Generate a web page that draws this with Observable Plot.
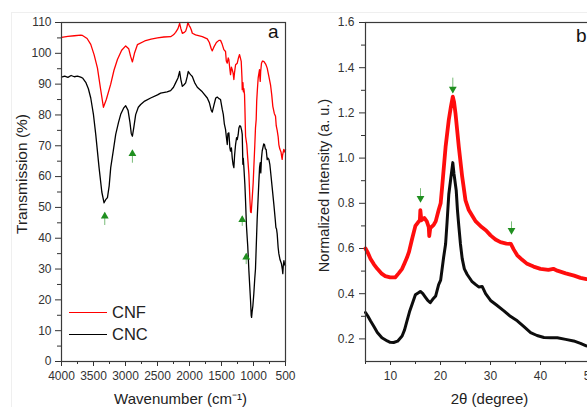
<!DOCTYPE html>
<html><head><meta charset="utf-8">
<script src="https://cdn.jsdelivr.net/npm/d3@7"></script>
<script src="https://cdn.jsdelivr.net/npm/@observablehq/plot@0.6"></script>
<style>
html,body{margin:0;padding:0;background:#fff;overflow:hidden;}
#fig{position:relative;width:587px;height:407px;overflow:hidden;font-family:"Liberation Sans",Arial,sans-serif;color:#333;}
#fig svg{position:absolute;top:0;overflow:visible;}
#border{position:absolute;left:11px;top:12px;width:600px;height:420px;border-left:1px solid #efefef;border-top:1px solid #efefef;}
.leg{position:absolute;left:69px;font-size:16.5px;color:#222;display:flex;align-items:center;height:20px;}
.leg span.sw{display:inline-block;width:38px;height:0;margin-right:5px;}
</style></head><body><div id="fig"><div id="border"></div></div>
<script>
// ---------- Panel a: FTIR ----------
const cnfWave = [4000,3900,3800,3700,3672,3600,3543,3490,3438,3390,3345,3300,3231,3180,3126,3060,2997,2950,2920,2892,2860,2814,2700,2600,2500,2400,2295,2250,2217,2180,2154,2135,2112,2080,2060,2040,2025,2005,1990,1970,1956,1905,1800,1722,1690,1660,1644,1620,1580,1540,1515,1490,1463,1437,1425,1410,1395,1385,1370,1359,1345,1332,1318,1307,1295,1280,1254,1235,1218,1205,1192,1180,1176,1165,1158,1150,1140,1135,1124,1113,1105,1090,1072,1055,1046,1036,1020,1005,995,980,969,958,950,940,927,906,900,895,888,875,860,839,810,786,760,734,715,698,675,656,645,630,615,604,590,570,560,552,545,527,515,500];
const cnfT = [105.2,105.5,105.7,105.9,105.8,104.8,102.9,99.5,95.2,88.5,82.5,85.0,90.0,94.5,98.0,101.0,102.4,101.5,99.0,97.2,100.0,102.8,104.0,104.6,105.0,105.3,105.4,106.0,106.8,108.0,109.7,108.0,106.5,106.8,107.2,108.5,110.0,109.0,108.5,107.5,106.5,106.0,105.4,104.7,103.5,101.5,100.8,102.0,103.5,104.2,104.2,103.0,101.2,100.6,97.5,96.8,98.5,97.9,95.0,93.1,95.5,94.7,93.5,91.5,94.0,96.3,96.8,98.5,99.6,98.5,97.4,92.0,88.2,90.5,87.5,88.5,86.5,82.8,73.1,71.5,70.4,66.0,60.8,52.0,48.5,48.3,53.0,58.0,62.9,70.0,75.8,78.5,84.5,88.0,92.0,94.7,92.0,90.9,94.0,96.8,97.5,97.4,96.5,95.2,92.5,89.8,86.5,82.8,80.5,79.6,76.5,75.0,73.0,70.4,69.0,68.0,66.5,65.6,67.0,68.8,68.0,68.8];

const cncWave = [4000,3950,3900,3850,3800,3750,3700,3672,3621,3580,3543,3500,3465,3413,3370,3335,3310,3282,3255,3231,3190,3153,3110,3075,3030,2997,2960,2930,2910,2892,2870,2841,2800,2763,2700,2607,2500,2451,2350,2295,2250,2217,2180,2154,2135,2112,2085,2060,2035,2019,2000,1980,1956,1920,1878,1800,1722,1690,1660,1644,1620,1590,1566,1540,1515,1488,1472,1455,1437,1425,1410,1400,1385,1369,1359,1345,1332,1320,1307,1295,1280,1265,1254,1240,1228,1215,1202,1185,1176,1166,1160,1150,1135,1124,1110,1098,1090,1072,1046,1036,1030,1022,1010,995,980,969,943,917,905,895,886,875,864,840,828,815,802,786,775,760,745,734,708,682,660,650,640,630,615,604,585,563,550,542,535,525,515,500];
const cncT = [92.3,92.6,92.2,92.8,92.4,92.6,92.3,92.0,90.6,88.5,85.5,80.0,73.7,62.9,55.0,51.5,52.5,53.2,57.0,62.9,68.5,73.7,77.5,80.2,82.2,83.0,81.5,77.5,74.0,73.1,76.0,80.1,82.5,83.4,84.5,85.5,86.5,87.1,87.5,87.9,89.0,90.4,92.0,94.1,91.5,89.3,89.8,90.4,92.5,94.1,93.5,93.0,92.5,90.5,89.0,87.5,85.5,84.0,81.5,80.9,83.0,85.5,85.8,85.3,85.0,81.8,80.2,77.0,75.3,73.0,70.4,74.0,74.2,69.3,68.3,69.3,66.0,64.0,62.9,67.0,70.4,72.6,72.0,73.5,75.8,76.5,76.4,75.0,73.7,64.0,66.0,62.9,57.5,52.0,44.0,40.0,37.5,29.4,19.7,15.0,14.3,16.0,18.0,22.0,27.0,30.0,46.0,58.0,63.0,64.5,61.2,66.0,68.3,70.6,70.4,69.0,68.8,65.5,66.0,65.6,64.0,61.8,56.4,51.0,46.0,43.5,43.0,41.4,37.0,35.0,33.0,31.7,30.0,28.5,31.0,32.7,31.5,31.0];

const ftirXTicks = [4000,3500,3000,2500,2000,1500,1000,500];
const ftirXMinor = [3750,3250,2750,2250,1750,1250,750];
const ftirYTicks = [0,10,20,30,40,50,60,70,80,90,100,110];
const ftirYMinor = [5,15,25,35,45,55,65,75,85,95,105];
// green arrows (wavenumber, tip, tail)
const ftirArrowWave = [3324,2892,1176,1114];
const ftirArrowTip = [48.3,68.6,47.2,35.0];
const ftirArrowTail = [44.3,64.5,44.0,31.6];

// ---------- Panel b: XRD ----------
const cnfAngle = [5.0,5.49,5.99,6.68,7.37,8.16,8.95,9.94,10.93,11.62,12.32,12.81,13.3,13.7,14.29,14.98,15.48,15.87,15.97,16.17,16.76,17.26,17.65,17.75,17.95,18.64,19.04,19.63,20.03,20.32,21.02,21.66,22.1,22.46,22.7,22.99,23.66,24.34,25.0,25.66,26.35,27.05,28.23,29.12,30.01,31.0,31.99,33.18,34.07,34.66,35.35,36.34,37.33,38.61,40.0,41.58,42.57,43.36,45.04,46.72,48.0,49.19,51.0];
const cnfI = [0.60,0.58,0.555,0.53,0.51,0.49,0.478,0.472,0.472,0.49,0.51,0.535,0.56,0.585,0.64,0.70,0.715,0.725,0.77,0.725,0.735,0.72,0.695,0.655,0.69,0.705,0.72,0.77,0.80,0.87,1.05,1.17,1.23,1.272,1.25,1.20,1.05,0.917,0.813,0.77,0.745,0.72,0.695,0.68,0.658,0.64,0.628,0.622,0.62,0.595,0.57,0.55,0.532,0.52,0.51,0.505,0.51,0.502,0.49,0.48,0.47,0.465,0.455];

const cncAngle = [5.0,5.49,5.99,6.68,7.37,8.28,9.35,9.94,10.63,11.42,12.32,12.81,13.3,13.8,14.34,14.98,15.67,15.97,16.47,16.96,17.45,17.95,18.44,19.04,19.63,20.03,20.62,21.02,21.31,21.66,22.0,22.46,22.7,23.14,23.39,23.66,23.99,24.34,24.77,25.34,26.26,27.05,27.64,28.33,29.02,30.01,31.2,32.68,33.97,35.35,36.63,38.02,39.3,40.69,42.07,43.36,45.04,46.62,48.0,49.14,51.0];
const cncI = [0.317,0.30,0.28,0.255,0.228,0.205,0.191,0.185,0.184,0.19,0.213,0.24,0.28,0.32,0.354,0.395,0.405,0.41,0.40,0.385,0.37,0.36,0.375,0.39,0.44,0.46,0.56,0.62,0.715,0.84,0.90,0.98,0.93,0.858,0.77,0.70,0.62,0.555,0.51,0.485,0.455,0.44,0.43,0.432,0.40,0.37,0.35,0.324,0.30,0.28,0.255,0.228,0.215,0.206,0.205,0.205,0.198,0.191,0.18,0.169,0.16];

const xrdXTicks = [10,20,30,40,50];
const xrdXMinor = [5,15,25,35,45];
const xrdYTicks = [0.2,0.4,0.6,0.8,1.0,1.2,1.4,1.6];
const xrdYMinor = [0.3,0.5,0.7,0.9,1.1,1.3,1.5];
const xrdArrowAngle = [16.0,22.46,34.2];
const xrdArrowTail = [0.867,1.356,0.72];
const xrdArrowTip = [0.806,1.29,0.665];

// ---------- build ----------
const zipXY = (xs, ys) => xs.map((x, i) => ({x, y: ys[i]}));
const ink = "#333";
const green = "#1f8f1f";
const font = '"Liberation Sans", Arial, sans-serif';
const baseStyle = {fontFamily: font, fontSize: "12px", color: ink, background: "none", overflow: "visible"};

const ftirArrows = ftirArrowWave.map((x, i) => ({x, tip: ftirArrowTip[i], tail: ftirArrowTail[i]}));
const xrdArrows = xrdArrowAngle.map((x, i) => ({x, tip: xrdArrowTip[i], tail: xrdArrowTail[i]}));

const plotA = Plot.plot({
  width: 290, height: 407,
  marginLeft: 61, marginRight: 5, marginTop: 22, marginBottom: 46,
  style: baseStyle,
  x: {domain: [4000, 500]},
  y: {domain: [0, 110]},
  marks: [
    Plot.axisX({ticks: ftirXMinor, tickSize: 3, tickFormat: () => "", label: null}),
    Plot.axisX({ticks: ftirXTicks, tickSize: 5, tickPadding: 5, tickFormat: d => String(d), label: null}),
    Plot.axisY({ticks: ftirYMinor, tickSize: 4, tickFormat: () => "", label: null}),
    Plot.axisY({ticks: ftirYTicks, tickSize: 6, tickPadding: 4, tickFormat: d => String(d), label: null}),
    Plot.line(zipXY(cnfWave, cnfT), {x: "x", y: "y", stroke: "#ff0000", strokeWidth: 1.3}),
    Plot.line(zipXY(cncWave, cncT), {x: "x", y: "y", stroke: "#000", strokeWidth: 1.3}),
    Plot.link(ftirArrows, {x1: "x", x2: "x", y1: "tail", y2: "tip", stroke: green, strokeWidth: 1, strokeOpacity: 0.6}),
    Plot.dot(ftirArrows, {x: "x", y: "tip", symbol: "triangle", r: 2.9, fill: green, stroke: "none", dy: 3.6}),
    Plot.frame({stroke: "#3a3a3a", strokeWidth: 1.2}),
    Plot.text(["a"], {text: d => d, frameAnchor: "top-right", textAnchor: "end", lineAnchor: "middle", dx: -7, dy: 9.5, fontSize: 19, fill: "#111"}),
    Plot.text(["Transmission (%)"], {text: d => d, frameAnchor: "left", rotate: -90, textAnchor: "middle", lineAnchor: "middle", dx: -39, dy: -18, fontSize: 15.5, fill: "#222"}),
    Plot.text(["Wavenumber (cm\u207B\u00B9)"], {text: d => d, frameAnchor: "bottom", textAnchor: "middle", lineAnchor: "middle", dx: 7, dy: 38, fontSize: 15, fill: "#222"})
  ]
});

const plotB = Plot.plot({
  width: 310, height: 407,
  marginLeft: 75, marginRight: 5, marginTop: 22, marginBottom: 46,
  style: baseStyle,
  x: {domain: [5, 51]},
  y: {domain: [0.1, 1.6]},
  marks: [
    Plot.axisX({ticks: xrdXMinor, tickSize: 3, tickFormat: () => "", label: null}),
    Plot.axisX({ticks: xrdXTicks, tickSize: 4, tickPadding: 6, tickFormat: d => String(d), label: null}),
    Plot.axisY({ticks: xrdYMinor, tickSize: 4, tickFormat: () => "", label: null}),
    Plot.axisY({ticks: xrdYTicks, tickSize: 6, tickPadding: 5, tickFormat: d3.format(".1f"), label: null}),
    Plot.line(zipXY(cnfAngle, cnfI), {x: "x", y: "y", stroke: "#ff0000", strokeWidth: 3.8, strokeOpacity: 0.95}),
    Plot.line(zipXY(cncAngle, cncI), {x: "x", y: "y", stroke: "#000", strokeWidth: 3.0, strokeOpacity: 0.95}),
    Plot.link(xrdArrows, {x1: "x", x2: "x", y1: "tail", y2: "tip", stroke: green, strokeWidth: 1, strokeOpacity: 0.6}),
    Plot.dot(xrdArrows, {x: "x", y: "tip", symbol: "triangle", rotate: 180, r: 2.9, fill: green, stroke: "none", dy: -3.6}),
    Plot.frame({stroke: "#3a3a3a", strokeWidth: 1.2}),
    Plot.text(["b"], {text: d => d, frameAnchor: "top-right", textAnchor: "end", lineAnchor: "middle", dx: -9, dy: 13.5, fontSize: 19, fill: "#111"}),
    Plot.text(["Normalized Intensity (a. u.)"], {text: d => d, frameAnchor: "left", rotate: -90, textAnchor: "middle", lineAnchor: "middle", dx: -41.5, dy: -6.5, fontSize: 14.5, fill: "#222"}),
    Plot.text(["2\u03B8 (degree)"], {text: d => d, frameAnchor: "bottom-left", textAnchor: "middle", lineAnchor: "middle", dx: 124, dy: 38, fontSize: 15, fill: "#222"})
  ]
});

const fig = document.getElementById("fig");
plotA.style.left = "0px";
plotB.style.left = "290px";
fig.appendChild(plotA);
fig.appendChild(plotB);

// legend (HTML)
const legendNames = ["CNF", "CNC"];
const legendColors = ["#ff0000", "#000000"];
const legendTops = [302, 324];
legendNames.forEach((n, i) => {
  const row = document.createElement("div");
  row.className = "leg";
  row.style.top = legendTops[i] + "px";
  const sw = document.createElement("span");
  sw.className = "sw";
  sw.style.borderTop = "1.5px solid " + legendColors[i];
  row.appendChild(sw);
  row.appendChild(document.createTextNode(n));
  fig.appendChild(row);
});
</script></body></html>
